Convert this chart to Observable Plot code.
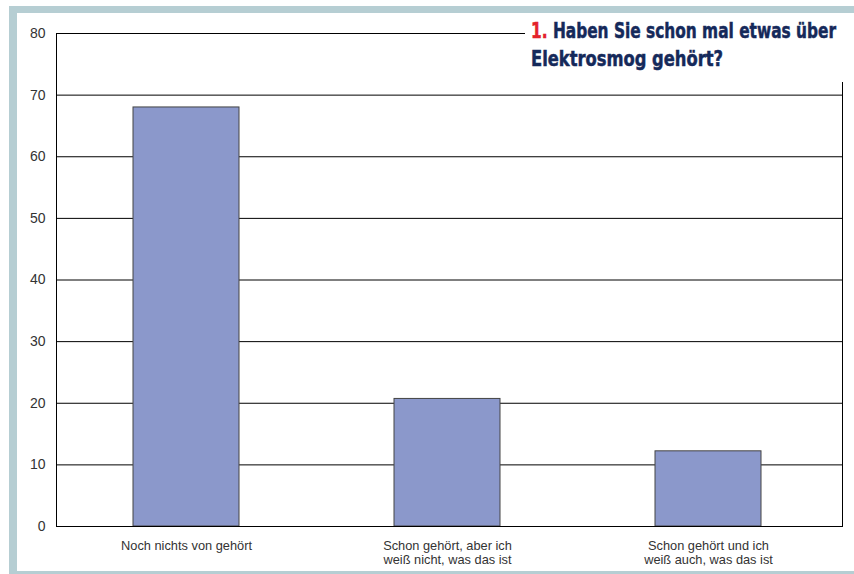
<!DOCTYPE html>
<html><head><meta charset="utf-8">
<script src="https://cdn.jsdelivr.net/npm/d3@7"></script>
<script src="https://cdn.jsdelivr.net/npm/@observablehq/plot@0.6"></script>
<style>
body{margin:0;background:#fff;}
#wrap{position:relative;width:854px;height:574px;overflow:hidden;background:#fff;}
.band{position:absolute;background:#b6ced3;}
#title{position:absolute;left:525px;top:14px;width:329px;height:68px;background:#fff;
 font-family:"DejaVu Sans Condensed","DejaVu Sans";font-weight:bold;font-stretch:condensed;
 font-size:22px;line-height:26px;color:#15295a;-webkit-text-stroke:0.5px #15295a;}
#title .l{position:absolute;left:6px;white-space:nowrap;transform-origin:0 0;}
#title .n{color:#e3222a;-webkit-text-stroke:0.5px #e3222a;}
#chart{position:absolute;left:0;top:0;}
</style></head>
<body><div id="wrap">
<div id="chart"></div>
<div class="band" style="left:9px;top:6px;width:845px;height:7px"></div>
<div class="band" style="left:9px;top:6px;width:8px;height:568px"></div>
<div class="band" style="left:9px;top:571px;width:845px;height:3px"></div>
<div id="title"><div class="l" id="l1" style="top:4px"><span class="n">1.</span> Haben Sie schon mal etwas über</div><div class="l" id="l2" style="top:32px">Elektrosmog gehört?</div></div>
</div>
<script>
const categories = ["Noch nichts von gehört", "Schon gehört, aber ich\nweiß nicht, was das ist", "Schon gehört und ich\nweiß auch, was das ist"];
const values = [68, 20.7, 12.2];
const yTicks = [0, 10, 20, 30, 40, 50, 60, 70, 80];

const data = categories.map((c, i) => ({category: c, value: values[i]}));

const chart = Plot.plot({
  width: 854,
  height: 574,
  marginLeft: 56,
  marginTop: 33,
  marginRight: 12,
  marginBottom: 48,
  style: {fontFamily: "Liberation Sans, Arial, sans-serif", background: "transparent", color: "#333"},
  x: {domain: categories, paddingInner: 0.595, paddingOuter: 0.3, align: 0.487, label: null},
  y: {domain: [0, 80], label: null},
  marks: [
    Plot.ruleY(yTicks, {stroke: "#000", strokeWidth: 1}),
    Plot.barY(data, {x: "category", y: "value", fill: "#8b98cb", stroke: "#444", strokeWidth: 1}),
    Plot.frame({stroke: "#000"}),
    Plot.axisY(yTicks, {tickSize: 0, tickPadding: 11, fontSize: 14, fill: "#333", label: null}),
    Plot.axisX({tickSize: 0, tickPadding: 13, fontSize: 12.8, fill: "#333", label: null, lineHeight: 1.1})
  ]
});
document.getElementById("chart").appendChild(chart);

function fit(id, w) {
  const el = document.getElementById(id);
  const r = el.getBoundingClientRect().width;
  el.style.transform = `scaleX(${w / r})`;
}
fit("l1", 305);
fit("l2", 192);
</script>
</body></html>
